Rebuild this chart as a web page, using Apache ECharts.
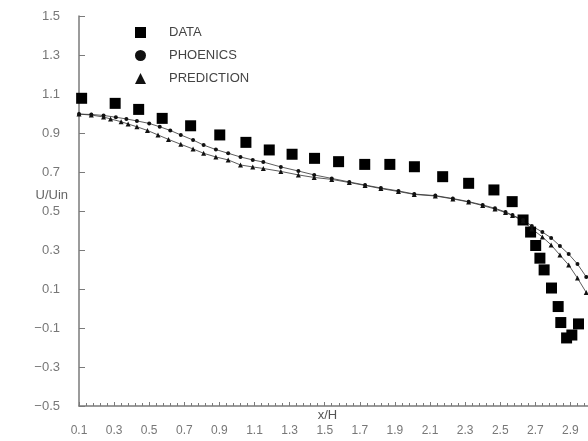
<!DOCTYPE html>
<html>
<head>
<meta charset="utf-8">
<script src="https://cdn.jsdelivr.net/npm/echarts@6/dist/echarts.min.js"></script>
<style>
  html, body { margin: 0; padding: 0; background: #fff; }
  #chart { width: 588px; height: 441px; }
</style>
</head>
<body>
<div id="chart"></div>
<script>
// measured points, x/H vs U/Uin
const dataX = [0.115, 0.306, 0.44, 0.574, 0.736, 0.902, 1.051, 1.184, 1.314, 1.442, 1.579, 1.728, 1.871, 2.011, 2.172,
  2.32, 2.464, 2.568, 2.63, 2.673, 2.702, 2.726, 2.75, 2.792, 2.83, 2.845, 2.878, 2.908, 2.946];
const dataY = [1.078, 1.052, 1.021, 0.975, 0.937, 0.890, 0.852, 0.813, 0.791, 0.770, 0.753, 0.739, 0.739, 0.727, 0.676,
  0.642, 0.608, 0.548, 0.454, 0.392, 0.323, 0.258, 0.198, 0.105, 0.010, -0.072, -0.151, -0.136, -0.079];

const phoenicsX = [0.10, 0.17, 0.24, 0.31, 0.37, 0.43, 0.50, 0.56, 0.62, 0.68, 0.75, 0.81, 0.88, 0.95, 1.02, 1.09, 1.15,
  1.25, 1.35, 1.44, 1.54, 1.64, 1.73, 1.82, 1.92, 2.01, 2.13, 2.23, 2.32, 2.40, 2.47, 2.53, 2.57, 2.63, 2.68, 2.74,
  2.79, 2.84, 2.89, 2.94, 2.99];
const phoenicsY = [0.997, 0.995, 0.990, 0.981, 0.972, 0.962, 0.949, 0.932, 0.913, 0.890, 0.864, 0.838, 0.815, 0.796,
  0.777, 0.762, 0.751, 0.726, 0.705, 0.685, 0.667, 0.649, 0.633, 0.618, 0.603, 0.587, 0.579, 0.564, 0.548, 0.531,
  0.514, 0.495, 0.479, 0.454, 0.423, 0.392, 0.362, 0.321, 0.279, 0.228, 0.162];

const predictionX = [0.10, 0.17, 0.24, 0.28, 0.34, 0.38, 0.43, 0.49, 0.55, 0.61, 0.68, 0.75, 0.81, 0.88, 0.95, 1.02,
  1.09, 1.15, 1.25, 1.35, 1.44, 1.54, 1.64, 1.73, 1.82, 1.92, 2.01, 2.13, 2.23, 2.32, 2.40, 2.47, 2.53, 2.57, 2.63,
  2.68, 2.74, 2.79, 2.84, 2.89, 2.94, 2.99];
const predictionY = [0.997, 0.992, 0.982, 0.972, 0.958, 0.946, 0.932, 0.913, 0.890, 0.867, 0.842, 0.818, 0.796, 0.777,
  0.762, 0.736, 0.726, 0.718, 0.703, 0.685, 0.672, 0.662, 0.646, 0.631, 0.615, 0.600, 0.585, 0.577, 0.562, 0.546,
  0.528, 0.510, 0.492, 0.477, 0.449, 0.408, 0.367, 0.326, 0.274, 0.223, 0.156, 0.082];

const zip = (xs, ys) => xs.map((x, i) => [x, ys[i]]);
const fmt = v => (Math.round(v * 10) / 10).toFixed(1).replace("-", "\u2212");
const font = "Liberation Sans";
const axisGray = "#7a7a7a";

echarts.init(document.getElementById("chart")).setOption({
  animation: false,
  textStyle: { fontFamily: font },
  grid: { left: 79, right: 0, top: 16, bottom: 35, outerBoundsMode: "none" },
  legend: {
    orient: "vertical", left: 130, top: 21, itemGap: 10,
    itemWidth: 11, itemHeight: 11,
    textStyle: { fontSize: 13, color: "#444", padding: [0, 0, 0, 18] },
    data: [
      { name: "DATA", icon: "rect" },
      { name: "PHOENICS", icon: "circle" },
      { name: "PREDICTION", icon: "triangle" }
    ]
  },
  xAxis: {
    type: "value", min: 0.1, max: 3.0, interval: 0.2,
    name: "x/H", nameLocation: "middle", nameGap: 3, nameMoveOverlap: false,
    nameTextStyle: { fontSize: 13, color: "#555", padding: [0, 12, 0, 0] },
    axisLine: { onZero: false, lineStyle: { color: axisGray, width: 1.5 } },
    axisTick: { inside: true, length: 4, lineStyle: { color: axisGray } },
    minorTick: { show: true, splitNumber: 5, length: 3, lineStyle: { color: axisGray } },
    axisLabel: { margin: 19, fontSize: 12, color: "#777", showMaxLabel: false, formatter: fmt },
    splitLine: { show: false }
  },
  yAxis: {
    type: "value", min: -0.5, max: 1.5, interval: 0.2,
    name: "U/Uin", nameLocation: "middle", nameGap: 11, nameRotate: 0, nameMoveOverlap: false,
    nameTextStyle: { fontSize: 13, color: "#666", verticalAlign: "bottom", lineHeight: 32 },
    axisLine: { onZero: false, lineStyle: { color: axisGray, width: 1.5 } },
    axisTick: { inside: true, length: 6, lineStyle: { color: axisGray } },
    axisLabel: { margin: 19, fontSize: 13, color: "#777", formatter: fmt },
    splitLine: { show: false }
  },
  series: [
    {
      name: "DATA", type: "scatter", symbol: "rect", symbolSize: 11,
      itemStyle: { color: "#000", opacity: 1 }, data: zip(dataX, dataY), z: 3
    },
    {
      name: "PHOENICS", type: "line", symbol: "circle", symbolSize: 4, showAllSymbol: true,
      itemStyle: { color: "#111" }, lineStyle: { color: "#333", width: 0.8 },
      data: zip(phoenicsX, phoenicsY)
    },
    {
      name: "PREDICTION", type: "line", symbol: "triangle", symbolSize: 5, showAllSymbol: true,
      itemStyle: { color: "#111" }, lineStyle: { color: "#333", width: 0.8 },
      data: zip(predictionX, predictionY)
    }
  ]
});
</script>
</body>
</html>
